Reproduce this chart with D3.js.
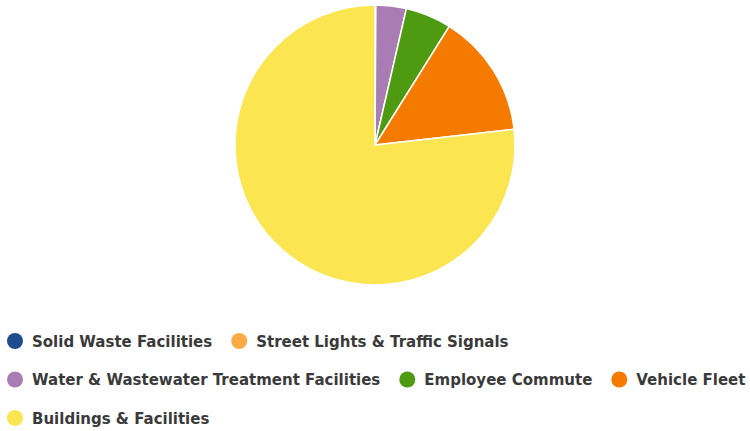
<!DOCTYPE html>
<html>
<head>
<meta charset="utf-8">
<script src="https://cdn.jsdelivr.net/npm/d3@7"></script>
<style>
  body { margin: 0; background: #fff; }
  text { font-family: "DejaVu Sans", sans-serif; }
</style>
</head>
<body>
<div id="chart"></div>
<script>
const categories = ['Solid Waste Facilities', 'Street Lights & Traffic Signals',
    'Water & Wastewater Treatment Facilities', 'Employee Commute', 'Vehicle Fleet',
    'Buildings & Facilities']
const values = [0.05, 0.05, 3.5, 5.3, 14.3, 76.8]
const colorList = ['#1e4d8f', '#fbab46', '#a97db4', '#4e9b12', '#f57b00', '#fbe652']

let width = 750, height = 431

let svg = d3.select('#chart').append('svg')
    .attr('width', width)
    .attr('height', height)

let data = categories.map(function(c, i){ return {name: c, value: values[i]} })

let colors = d3.scaleOrdinal().domain(categories).range(colorList)

let pie = d3.pie().sort(null).value(function(d){ return d.value })
let arc = d3.arc().innerRadius(0).outerRadius(140)

let g = svg.append('g')
    .attr('transform', 'translate(375,145)')

g.selectAll('path')
    .data(pie(data))
    .enter()
    .append('path')
    .attr('d', arc)
    .attr('fill', function(d){ return colors(d.data.name) })
    .attr('stroke', '#fff')
    .attr('stroke-width', 1.5)
    .attr('stroke-linejoin', 'round')

// legend, flowed left to right and wrapped like the original
let legend = svg.append('g')
let x = 15, y = 341, rowH = 38.5, maxX = 760

data.forEach(function(d){
    let item = legend.append('g')
    let t = item.append('text')
        .attr('x', 17)
        .attr('y', 5.5)
        .attr('font-size', 15)
        .attr('font-weight', 'bold')
        .attr('fill', '#3a3a3a')
        .text(d.name)
    let w = t.node().getComputedTextLength() + 17
    if (x + w > maxX && x > 15) { x = 15; y += rowH }
    item.attr('transform', 'translate(' + x + ',' + y + ')')
    item.append('circle')
        .attr('r', 8)
        .attr('fill', colors(d.name))
    x += w + 27
})
</script>
</body>
</html>
